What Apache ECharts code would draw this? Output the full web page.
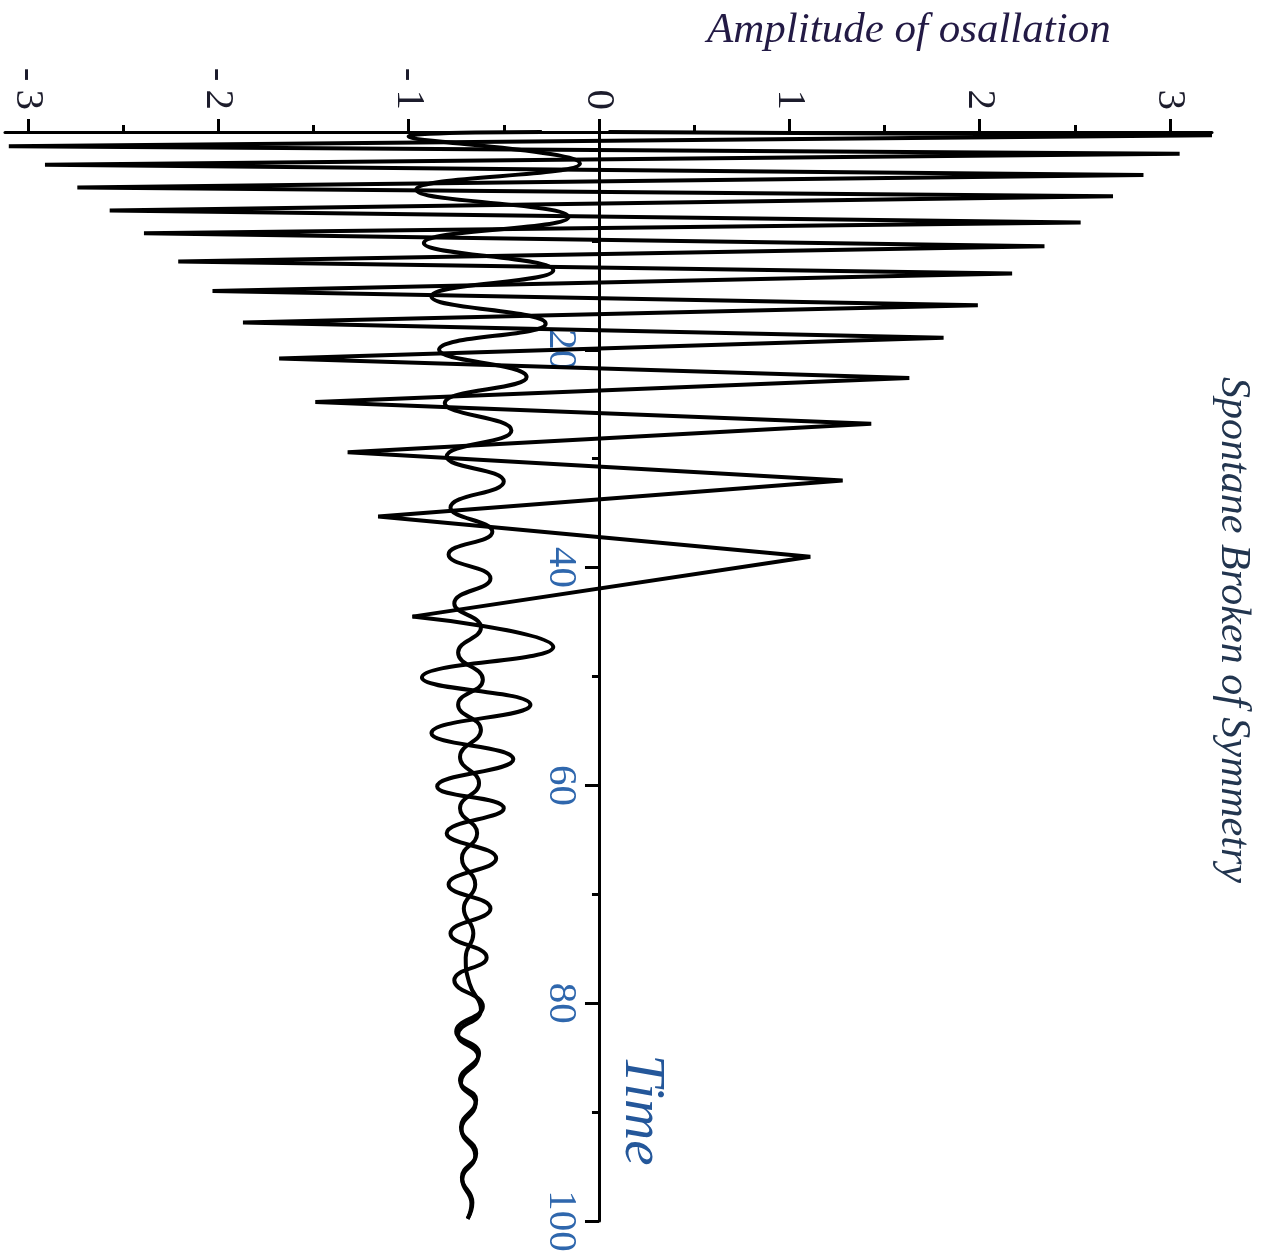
<!DOCTYPE html>
<html>
<head>
<meta charset="utf-8">
<script src="https://cdn.jsdelivr.net/npm/echarts@6/dist/echarts.min.js"></script>
<style>
html,body{margin:0;padding:0;background:#fff;}
#chart{width:1272px;height:1259px;}
</style>
</head>
<body>
<div id="chart"></div>
<script>
// ---- Tick values ----
var ampMajorTicks = [-3, -2, -1, 0, 1, 2, 3];
var ampMinorTicks = [-2.5, -1.5, -0.5, 0.5, 1.5, 2.5];

// ---- Curve A, early part: oscillation across both wells (amplitude, time) ----
var aEarlyAmp  = [0.05, 3.22, -3.10, 3.05, -2.91, 2.86, -2.74, 2.70, -2.57, 2.53, -2.39, 2.34, -2.21, 2.17, -2.03, 1.99, -1.87, 1.81, -1.68, 1.63, -1.49, 1.43, -1.32, 1.28, -1.16, 1.11, -0.98];
var aEarlyTime = [0.0, 0.3, 1.3, 2.0, 3.0, 3.95, 5.1, 5.9, 7.2, 8.3, 9.3, 10.5, 11.9, 13.0, 14.6, 15.9, 17.5, 18.9, 20.8, 22.6, 24.8, 26.8, 29.4, 32.0, 35.3, 39.0, 44.5];

// ---- Curve A, late part: trapped in the left well ----
var aLateAmp  = [-0.98, -0.24, -0.93, -0.36, -0.88, -0.45, -0.85, -0.50, -0.80, -0.54, -0.79, -0.57, -0.78, -0.59, -0.76, -0.61, -0.75, -0.63, -0.73, -0.645, -0.725, -0.645, -0.72, -0.665, -0.69];
var aLateTime = [44.5, 47.3, 50.1, 52.6, 55.2, 57.6, 60.1, 62.1, 64.4, 66.7, 69.1, 71.3, 73.6, 75.8, 77.9, 80.3, 82.6, 84.6, 87.1, 88.9, 91.4, 93.8, 96.0, 98.3, 99.8];

// ---- Curve B: oscillation inside the left well ----
var bAmp  = [-0.30, -1.00, -0.10, -0.96, -0.16, -0.92, -0.24, -0.88, -0.28, -0.84, -0.38, -0.81, -0.46, -0.80, -0.50, -0.78, -0.56, -0.79, -0.57, -0.76, -0.62, -0.74, -0.61, -0.74, -0.62, -0.73, -0.63, -0.73, -0.64, -0.72, -0.65, -0.71, -0.66, -0.70, -0.68, -0.62, -0.74, -0.635, -0.725, -0.648, -0.722, -0.65, -0.718, -0.67, -0.69];
var bTime = [0.0, 0.4, 2.9, 5.3, 7.8, 10.2, 12.7, 15.1, 17.6, 20.0, 22.5, 24.9, 27.4, 29.8, 32.1, 34.5, 36.7, 38.8, 41.0, 43.3, 45.5, 47.8, 50.3, 52.6, 54.9, 57.4, 59.8, 62.1, 64.4, 66.7, 69.1, 71.3, 73.6, 75.8, 78.2, 80.6, 82.9, 84.9, 87.3, 89.2, 91.6, 94.0, 96.2, 98.4, 99.8];

function pairs(xs, ts) {
  var out = [];
  for (var i = 0; i < xs.length; i++) out.push([xs[i], ts[i]]);
  return out;
}

var chart = echarts.init(document.getElementById('chart'), null, {renderer: 'canvas'});
var serif = '"Liberation Serif", "DejaVu Serif", serif';
var lineStyle = {color: '#000', width: 4, join: 'bevel'};

var GRID_LEFT = 5, GRID_RIGHT = 60, GRID_TOP = 132;
var X_MIN = -3.12, X_MAX = 3.22;
var gridWidth = 1272 - GRID_LEFT - GRID_RIGHT;
var zeroOffset = (0 - X_MIN) / (X_MAX - X_MIN) * gridWidth;

chart.setOption({
  animation: false,
  backgroundColor: '#fff',
  grid: {left: GRID_LEFT, right: GRID_RIGHT, top: GRID_TOP, bottom: 38, containLabel: false, outerBoundsMode: 'none'},
  xAxis: [{
    type: 'value', position: 'top', min: X_MIN, max: X_MAX,
    axisLine: {show: true, onZero: false, lineStyle: {color: '#000', width: 3}},
    axisTick: {show: true, inside: false, length: 13, customValues: ampMajorTicks, lineStyle: {color: '#000', width: 3}},
    axisLabel: {show: false},
    splitLine: {show: false}
  }, {
    type: 'value', position: 'top', min: X_MIN, max: X_MAX,
    axisLine: {show: false, onZero: false},
    axisTick: {show: true, length: 7, customValues: ampMinorTicks, lineStyle: {color: '#000', width: 3}},
    axisLabel: {show: false},
    splitLine: {show: false}
  }],
  yAxis: {
    type: 'value', position: 'left', offset: -zeroOffset, inverse: true, min: 0, max: 100, interval: 20,
    axisLine: {show: true, onZero: false, lineStyle: {color: '#000', width: 3}},
    axisTick: {show: true, length: 14, lineStyle: {color: '#000', width: 3}},
    minorTick: {show: true, splitNumber: 2, length: 7, lineStyle: {color: '#000', width: 3}},
    axisLabel: {show: true, showMinLabel: false, rotate: -90, margin: 18, align: 'center', verticalAlign: 'top',
      color: '#2f67ad', fontFamily: serif, fontSize: 41},
    splitLine: {show: false}
  },
  series: [{
    type: 'line', xAxisIndex: 0, data: pairs(aEarlyAmp, aEarlyTime), showSymbol: false, clip: false,
    lineStyle: lineStyle, smooth: false
  }, {
    type: 'line', xAxisIndex: 0, data: pairs(aLateAmp, aLateTime), showSymbol: false, clip: false,
    lineStyle: lineStyle, smooth: 0.5
  }, {
    type: 'line', xAxisIndex: 0, data: pairs(bAmp, bTime), showSymbol: false, clip: false,
    lineStyle: lineStyle, smooth: 0.5
  }]
});

// Amplitude tick labels, placed through the x axis scale, reading top-to-bottom
var graphics = [{
  type: 'text', x: 707, y: 9,
  style: {text: 'Amplitude of osallation', font: 'italic 43px ' + serif, fill: '#231a45', align: 'left', verticalAlign: 'top'}
}, {
  type: 'text', x: 641, y: 1110, rotation: -Math.PI / 2,
  style: {text: 'Time', font: 'italic 57px ' + serif, fill: '#24579a', align: 'center', verticalAlign: 'middle'}
}, {
  type: 'text', x: 1233, y: 630, rotation: -Math.PI / 2,
  style: {text: 'Spontane Broken of Symmetry', font: 'italic 42px ' + serif, fill: '#22354f', align: 'center', verticalAlign: 'middle'}
}];
ampMajorTicks.forEach(function (v) {
  var px = chart.convertToPixel({xAxisIndex: 0}, v);
  graphics.push({
    type: 'text', x: px, y: GRID_TOP - 22, rotation: -Math.PI / 2,
    style: {text: v < 0 ? '-\u2009' + Math.abs(v) : String(v), font: '41px ' + serif, fill: '#1c1c2c',
      align: 'right', verticalAlign: 'middle'}
  });
});
chart.setOption({graphic: graphics});
</script>
</body>
</html>
